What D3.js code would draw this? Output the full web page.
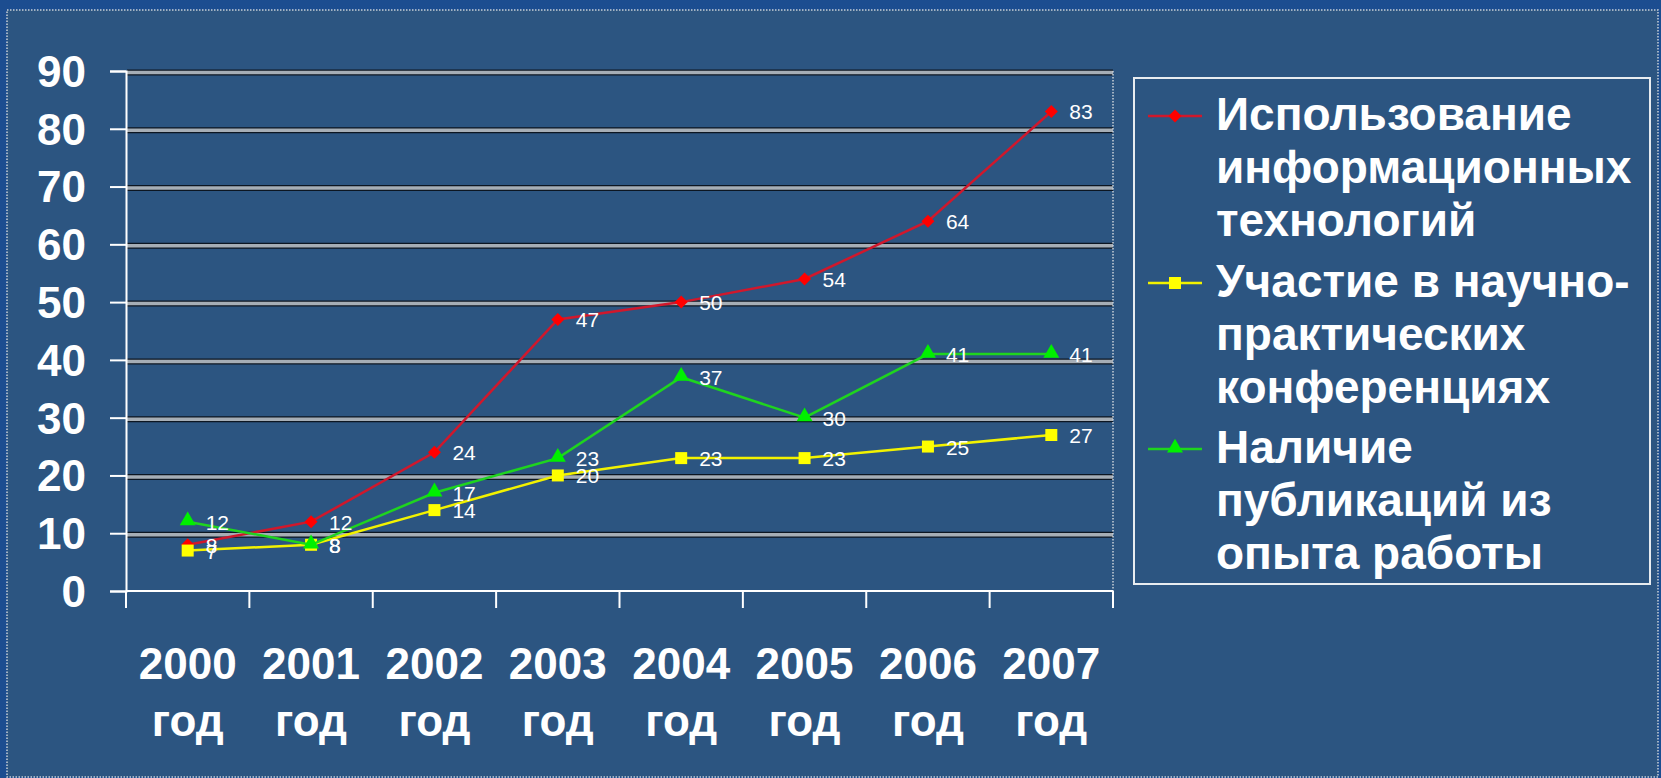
<!DOCTYPE html>
<html>
<head>
<meta charset="utf-8">
<script src="https://cdn.jsdelivr.net/npm/d3@7"></script>
<style>
  html, body { margin: 0; padding: 0; background: #1d4b8c; }
  svg { display: block; }
</style>
</head>
<body>
<div id="chart"></div>
<script>
// categories
const years = ['2000', '2001', '2002', '2003', '2004', '2005', '2006', '2007'];
const yearSuffix = 'год';
const yTicks = [0, 10, 20, 30, 40, 50, 60, 70, 80, 90];

// series values
const itUse = [8, 12, 24, 47, 50, 54, 64, 83];
const conferences = [7, 8, 14, 20, 23, 23, 25, 27];
const publications = [12, 8, 17, 23, 37, 30, 41, 41];

const seriesNames = [
  ['Использование', 'информационных', 'технологий'],
  ['Участие в научно-', 'практических', 'конференциях'],
  ['Наличие', 'публикаций из', 'опыта работы']
];

const series = [
  { name: seriesNames[0], values: itUse, line: '#d0182c', fill: '#ff0000', marker: 'diamond' },
  { name: seriesNames[1], values: conferences, line: '#f2f200', fill: '#ffff00', marker: 'square' },
  { name: seriesNames[2], values: publications, line: '#1fd41f', fill: '#00f000', marker: 'triangle' }
];

const width = 1661, height = 778;
const font = '"Liberation Sans", Arial, sans-serif';

const svg = d3.select('#chart').append('svg')
  .attr('width', width)
  .attr('height', height);

// slide background with dotted frame
svg.append('rect')
  .attr('x', 0).attr('y', 0).attr('width', width).attr('height', height)
  .attr('fill', '#1c4d90');
svg.append('rect')
  .attr('x', 7).attr('y', 10).attr('width', 1651).attr('height', 767)
  .attr('fill', '#2c5581')
  .attr('stroke', '#c8d0d8')
  .attr('stroke-width', 1.5)
  .attr('stroke-dasharray', '1.5,1.5');

const x = d3.scaleBand().domain(years).range([126, 1113]);
const y = d3.scaleLinear().domain([0, 90]).range([591, 71]);
const cx = d => x(d) + x.bandwidth() / 2;

// gridlines (thick hatched bands)
const grid = svg.append('g');
yTicks.filter(t => t > 0).forEach(t => {
  grid.append('line')
    .attr('x1', 127).attr('x2', 1113)
    .attr('y1', y(t) + 1.5).attr('y2', y(t) + 1.5)
    .attr('stroke', '#0c1622').attr('stroke-width', 6);
  grid.append('line')
    .attr('x1', 127).attr('x2', 1113)
    .attr('y1', y(t) + 1.5).attr('y2', y(t) + 1.5)
    .attr('stroke', '#a6aeb6').attr('stroke-width', 3.5);
});

// plot right edge (dotted)
svg.append('line')
  .attr('x1', 1113).attr('x2', 1113)
  .attr('y1', y(90)).attr('y2', y(0))
  .attr('stroke', '#c8d0d8').attr('stroke-width', 1.5)
  .attr('stroke-dasharray', '1.5,1.5');

// y axis
const yAxis = svg.append('g')
  .attr('transform', 'translate(126,0)')
  .call(d3.axisLeft(y).tickValues(yTicks).tickSize(16).tickPadding(24));
yAxis.select('.domain').attr('stroke', '#fff').attr('stroke-width', 2);
yAxis.selectAll('.tick line').attr('stroke', '#fff').attr('stroke-width', 2);
yAxis.selectAll('.tick text')
  .attr('fill', '#fff')
  .attr('font-family', font)
  .attr('font-weight', 'bold')
  .attr('font-size', 44)
  .attr('dy', '0.35em');

// x axis: ticks at category boundaries
const xAxisG = svg.append('g');
xAxisG.append('line')
  .attr('x1', 126).attr('x2', 1113)
  .attr('y1', y(0)).attr('y2', y(0))
  .attr('stroke', '#fff').attr('stroke-width', 2);
const bounds = years.map(d => x(d)).concat([x.range()[1]]);
xAxisG.selectAll('line.tk')
  .data(bounds)
  .join('line')
  .attr('class', 'tk')
  .attr('x1', d => d).attr('x2', d => d)
  .attr('y1', y(0)).attr('y2', y(0) + 17)
  .attr('stroke', '#fff').attr('stroke-width', 2);

const xl = xAxisG.selectAll('text.xl')
  .data(years)
  .join('text')
  .attr('class', 'xl')
  .attr('x', d => cx(d))
  .attr('y', 679)
  .attr('text-anchor', 'middle')
  .attr('fill', '#fff')
  .attr('font-family', font)
  .attr('font-weight', 'bold')
  .attr('font-size', 44);
xl.append('tspan').attr('x', d => cx(d)).text(d => d);
xl.append('tspan').attr('x', d => cx(d)).attr('dy', 57).text(yearSuffix);

// markers
function drawMarker(g, type, fill, px, py) {
  if (type === 'diamond') {
    const r = 6.5;
    g.append('path')
      .attr('d', `M${px},${py - r}L${px + r},${py}L${px},${py + r}L${px - r},${py}Z`)
      .attr('fill', fill);
  } else if (type === 'square') {
    g.append('rect')
      .attr('x', px - 6).attr('y', py - 6).attr('width', 12).attr('height', 12)
      .attr('fill', fill);
  } else {
    g.append('path')
      .attr('d', d3.symbol(d3.symbolTriangle, 110)())
      .attr('transform', `translate(${px},${py - 1})`)
      .attr('fill', fill);
  }
}

const line = d3.line().x((d, i) => cx(years[i])).y(d => y(d));
const plot = svg.append('g');
series.forEach(s => {
  plot.append('path')
    .datum(s.values)
    .attr('d', line)
    .attr('fill', 'none')
    .attr('stroke', s.line)
    .attr('stroke-width', 2.5);
  s.values.forEach((v, i) => drawMarker(plot, s.marker, s.fill, cx(years[i]), y(v)));
});

// data labels
const labels = svg.append('g');
series.forEach(s => {
  labels.selectAll(null)
    .data(s.values)
    .join('text')
    .attr('x', (d, i) => cx(years[i]) + 18)
    .attr('y', d => y(d) + 8)
    .attr('fill', '#fff')
    .attr('font-family', font)
    .attr('font-size', 21)
    .text(d => d);
});

// legend
const legend = svg.append('g');
legend.append('rect')
  .attr('x', 1134).attr('y', 78).attr('width', 516).attr('height', 506)
  .attr('fill', 'none')
  .attr('stroke', '#e8ecf0')
  .attr('stroke-width', 2);

const entryBase = [130, 297, 463];
const lineGap = 53;
series.forEach((s, k) => {
  const by = entryBase[k];
  const my = by - 14;
  legend.append('line')
    .attr('x1', 1148).attr('x2', 1202)
    .attr('y1', my).attr('y2', my)
    .attr('stroke', s.line).attr('stroke-width', 2.5);
  drawMarker(legend, s.marker, s.fill, 1175, my);
  s.name.forEach((t, j) => {
    legend.append('text')
      .attr('x', 1216)
      .attr('y', by + j * lineGap)
      .attr('fill', '#fff')
      .attr('font-family', font)
      .attr('font-weight', 'bold')
      .attr('font-size', 46)
      .text(t);
  });
});
</script>
</body>
</html>
